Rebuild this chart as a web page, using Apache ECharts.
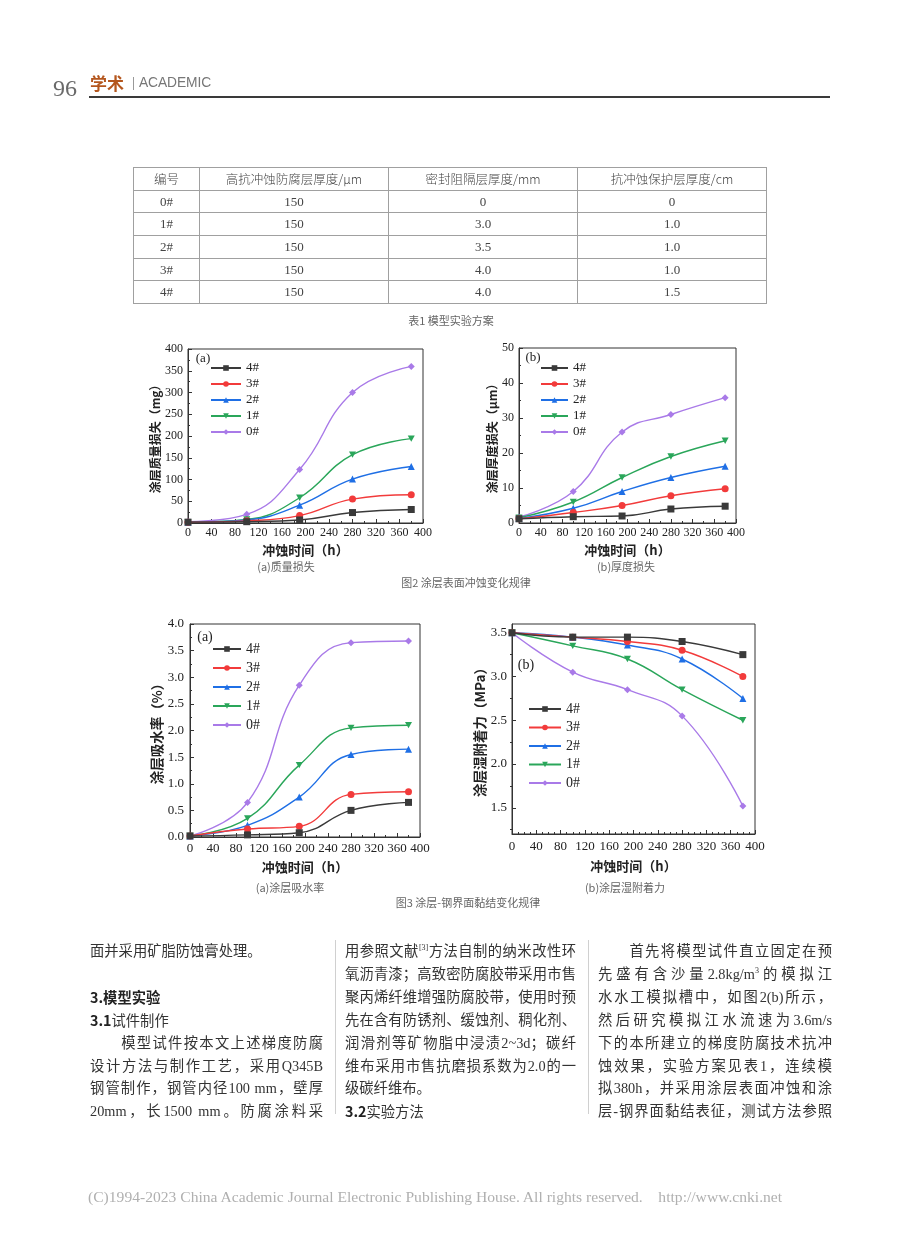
<!DOCTYPE html>
<html><head><meta charset="utf-8">
<script src="https://cdn.jsdelivr.net/npm/echarts@6/dist/echarts.min.js"></script>
<style>
body{margin:0;background:#fff;}
#page{position:relative;width:920px;height:1235px;overflow:hidden;background:#fff;font-family:"Liberation Serif","Noto Sans CJK SC",serif;color:#333;}
#chart{position:absolute;left:0;top:0;width:920px;height:1235px;}
.abs{position:absolute;white-space:nowrap;}
.cap{font-family:"Noto Sans CJK SC",sans-serif;font-size:11px;color:#666;transform:translateX(-50%);line-height:14px;}
table.t{position:absolute;left:133px;top:167px;width:633px;table-layout:fixed;border-collapse:collapse;font-size:13px;color:#444;}
table.t td{border:1px solid #a0a0a0;height:21.7px;padding:0;text-align:center;font-family:"Liberation Serif","Noto Sans CJK SC",serif;overflow:hidden;white-space:nowrap;}
table.t tr.h td{font-family:"Noto Sans CJK SC",sans-serif;font-size:12.5px;font-weight:300;}
.ln{position:absolute;font-size:14.3px;line-height:20px;height:20px;white-space:nowrap;overflow:visible;color:#333;font-family:"Liberation Serif","Noto Sans CJK SC",serif;}
.ln.j{text-align:justify;text-align-last:justify;white-space:normal;}
.ln b{font-family:"Noto Sans CJK SC",sans-serif;font-weight:bold;color:#222;}
.ln sup{font-size:8px;vertical-align:6px;line-height:0;}
</style></head>
<body><div id="page">
<div id="chart"></div>
</div>
<script>
// ---------- data ----------
const timeH = [0, 100, 190, 280, 380];
const seriesNames = ['4#', '3#', '2#', '1#', '0#'];
// Fig.2(a) mass loss (mg), order 4#,3#,2#,1#,0#
const massLoss = [
  [2, 3, 7, 24, 31],
  [2, 5, 17, 55, 65],
  [2, 7, 41, 101, 130],
  [2, 8, 58, 157, 194],
  [3, 20, 123, 300, 360]
];
// Fig.2(b) thickness loss (μm)
const thicknessLoss = [
  [1.2, 1.8, 2.0, 4.0, 4.8],
  [1.2, 3.0, 5.0, 7.8, 9.8],
  [1.3, 4.2, 9.0, 13.0, 16.2],
  [1.5, 6.0, 13.0, 19.0, 23.5],
  [1.7, 9.0, 26.0, 31.0, 35.8]
];
// Fig.3(a) water absorption (%)
const waterAbsorption = [
  [0.02, 0.04, 0.08, 0.50, 0.65],
  [0.02, 0.15, 0.20, 0.80, 0.85],
  [0.02, 0.22, 0.75, 1.55, 1.65],
  [0.02, 0.35, 1.35, 2.05, 2.10],
  [0.02, 0.65, 2.85, 3.65, 3.68]
];
// Fig.3(b) wet adhesion (MPa)
const wetAdhesion = [
  [3.5, 3.45, 3.45, 3.40, 3.25],
  [3.5, 3.45, 3.40, 3.30, 3.00],
  [3.5, 3.45, 3.36, 3.20, 2.75],
  [3.5, 3.35, 3.20, 2.85, 2.50],
  [3.5, 3.05, 2.85, 2.55, 1.52]
];
const adhesionTicks = [1.5, 2.0, 2.5, 3.0, 3.5];
const adhesionMinorTicks = [1.25, 1.75, 2.25, 2.75, 3.25];

// table
const tableHeader = ['编号', '高抗冲蚀防腐层厚度/μm', '密封阻隔层厚度/mm', '抗冲蚀保护层厚度/cm'];
const tableIds = ['0#', '1#', '2#', '3#', '4#'];
const anticorrosionLayer = ['150', '150', '150', '150', '150'];
const sealLayer = ['0', '3.0', '3.5', '4.0', '4.0'];
const protectLayer = ['0', '1.0', '1.0', '1.0', '1.5'];

// ---------- page furniture ----------
const page = document.getElementById('page');
function addDiv(html, css, cls) {
  const d = document.createElement('div');
  d.className = 'abs ' + (cls || '');
  d.innerHTML = html;
  Object.assign(d.style, css);
  page.appendChild(d);
  return d;
}
// header
addDiv('96', {left:'53px', top:'75px', fontSize:'24px', lineHeight:'27px', color:'#6a6a6a', fontFamily:'"Liberation Serif",serif'});
addDiv('学术', {left:'90px', top:'73px', fontSize:'17px', lineHeight:'20px', color:'#b4561d', fontWeight:'bold', fontFamily:'"Noto Sans CJK SC",sans-serif'});
addDiv('', {left:'133px', top:'77px', width:'1px', height:'13px', background:'#999'});
addDiv('ACADEMIC', {left:'139px', top:'75px', fontSize:'13.8px', lineHeight:'16px', color:'#777', fontFamily:'"Liberation Sans",sans-serif', letterSpacing:'-0.1px'});
addDiv('', {left:'89px', top:'96px', width:'741px', height:'1.5px', background:'#3a3a3a'});

// table
(function(){
  const t = document.createElement('table');
  t.className = 't';
  const widths = [66, 189, 189, 189];
  let html = '<colgroup>' + widths.map(w=>'<col style="width:'+w+'px">').join('') + '</colgroup>';
  html += '<tr class="h">' + tableHeader.map(h=>'<td>'+h+'</td>').join('') + '</tr>';
  for (let i = 0; i < tableIds.length; i++) {
    html += '<tr><td>'+tableIds[i]+'</td><td>'+anticorrosionLayer[i]+'</td><td>'+sealLayer[i]+'</td><td>'+protectLayer[i]+'</td></tr>';
  }
  t.innerHTML = html;
  page.appendChild(t);
})();

// captions
addDiv('表1 模型实验方案', {left:'451px', top:'313px'}, 'cap');
addDiv('(a)质量损失', {left:'286px', top:'559px'}, 'cap');
addDiv('(b)厚度损失', {left:'626px', top:'559px'}, 'cap');
addDiv('图2 涂层表面冲蚀变化规律', {left:'466px', top:'575px'}, 'cap');
addDiv('(a)涂层吸水率', {left:'290px', top:'880px'}, 'cap');
addDiv('(b)涂层湿附着力', {left:'625px', top:'880px'}, 'cap');
addDiv('图3 涂层-钢界面黏结变化规律', {left:'468px', top:'895px'}, 'cap');

// body text
const col1 = [
  [0, '面并采用矿脂防蚀膏处理。', false],
  [2, '<b>3.模型实验</b>', false],
  [3, '<b>3.1</b>试件制作', false],
  [4, '　　模型试件按本文上述梯度防腐', true],
  [5, '设计方法与制作工艺，采用Q345B', true],
  [6, '钢管制作，钢管内径100 mm，壁厚', true],
  [7, '20mm，长1500 mm。防腐涂料采', true]
];
const col2 = [
  [0, '用参照文献<sup>[3]</sup>方法自制的纳米改性环', true],
  [1, '氧沥青漆；高致密防腐胶带采用市售', true],
  [2, '聚丙烯纤维增强防腐胶带，使用时预', true],
  [3, '先在含有防锈剂、缓蚀剂、稠化剂、', true],
  [4, '润滑剂等矿物脂中浸渍2~3d；碳纤', true],
  [5, '维布采用市售抗磨损系数为2.0的一', true],
  [6, '级碳纤维布。', false],
  [7, '<b>3.2</b>实验方法', false]
];
const col3 = [
  [0, '　　首先将模型试件直立固定在预', true],
  [1, '先盛有含沙量2.8kg/m<sup>3</sup>的模拟江', true],
  [2, '水水工模拟槽中，如图2(b)所示，', true],
  [3, '然后研究模拟江水流速为3.6m/s', true],
  [4, '下的本所建立的梯度防腐技术抗冲', true],
  [5, '蚀效果，实验方案见表1，连续模', true],
  [6, '拟380h，并采用涂层表面冲蚀和涂', true],
  [7, '层-钢界面黏结表征，测试方法参照', true]
];
function placeCol(lines, left, width) {
  lines.forEach(([k, html, just]) => {
    const d = document.createElement('div');
    d.className = 'ln' + (just ? ' j' : '');
    d.innerHTML = html;
    d.style.left = left + 'px';
    d.style.width = width + 'px';
    d.style.top = (941 + k * 22.9) + 'px';
    page.appendChild(d);
  });
}
placeCol(col1, 90, 233);
placeCol(col2, 345, 231);
placeCol(col3, 598, 234);
addDiv('', {left:'335px', top:'940px', width:'1px', height:'174px', background:'#d0d0d0'});
addDiv('', {left:'588px', top:'940px', width:'1px', height:'174px', background:'#d0d0d0'});

// footer
addDiv('(C)1994-2023 China Academic Journal Electronic Publishing House. All rights reserved.&nbsp;&nbsp;&nbsp;&nbsp;http://www.cnki.net',
  {left:'88px', top:'1187px', fontSize:'15.6px', lineHeight:'19px', color:'#b0b0b0', fontFamily:'"Liberation Serif",serif', letterSpacing:'0px'});

// ---------- charts ----------
const colors = ['#3a3a3a', '#f23b3b', '#1f6fe5', '#2aa65a', '#a97ae8'];
const symbols = ['rect', 'circle', 'triangle', 'path://M0,0L10,0L5,9Z', 'diamond'];
const serifFont = '"Liberation Serif", "Times New Roman", serif';
const cjkFont = '"Noto Sans CJK SC", sans-serif';

const grids = [
  {left:188, top:349, width:235, height:174},
  {left:519, top:348, width:217, height:175},
  {left:190, top:624, width:230, height:213},
  {left:512, top:624, width:243, height:210}
].map(g => Object.assign({show:true, borderColor:'#333', borderWidth:1, backgroundColor:'transparent', containLabel:false, outerBoundsMode:'none'}, g));

function xAxis(gi, fs, margin, gap, minorSplit) {
  return {
    type:'value', gridIndex:gi, min:0, max:400, interval:40,
    axisLine:{show:true, onZero:false, lineStyle:{color:'#333', width:1}},
    axisTick:{show:true, inside:true, length:4, lineStyle:{color:'#333'}},
    minorTick:{show:true, splitNumber:minorSplit, length:2, lineStyle:{color:'#333'}},
    splitLine:{show:false},
    axisLabel:{margin:margin, fontFamily:serifFont, fontSize:fs, color:'#222'},
    name:'冲蚀时间（h）', nameLocation:'middle', nameGap:gap,
    nameTextStyle:{fontFamily:cjkFont, fontSize:13, color:'#222', fontWeight:'bold'}
  };
}
function yAxis(gi, opt) {
  return Object.assign({
    type:'value', gridIndex:gi,
    axisLine:{show:true, onZero:false, lineStyle:{color:'#333', width:1}},
    axisTick:{show:true, inside:true, length:4, lineStyle:{color:'#333'}},
    minorTick:{show:true, splitNumber:2, length:2, lineStyle:{color:'#333'}},
    splitLine:{show:false},
    nameLocation:'middle'
  }, opt);
}

const xAxes = [
  xAxis(0, 12, 4, 21, 2),
  xAxis(1, 12, 4, 21, 2),
  xAxis(2, 13, 5, 24, 2),
  xAxis(3, 13, 6, 26, 4)
];
const yAxes = [
  yAxis(0, {min:0, max:400, interval:50, name:'涂层质量损失（mg）', nameGap:25,
    axisLabel:{margin:5, fontFamily:serifFont, fontSize:12, color:'#222'},
    nameTextStyle:{fontFamily:cjkFont, fontSize:12, color:'#222', fontWeight:'bold'}}),
  yAxis(1, {min:0, max:50, interval:10, name:'涂层厚度损失（μm）', nameGap:19,
    axisLabel:{margin:5, fontFamily:serifFont, fontSize:12, color:'#222'},
    nameTextStyle:{fontFamily:cjkFont, fontSize:12, color:'#222', fontWeight:'bold'}}),
  yAxis(2, {min:0, max:4, interval:0.5, name:'涂层吸水率（%）', nameGap:23,
    axisLabel:{margin:6, fontFamily:serifFont, fontSize:13, color:'#222', formatter:v=>v.toFixed(1)},
    nameTextStyle:{fontFamily:cjkFont, fontSize:13.5, color:'#222', fontWeight:'bold'}}),
  yAxis(3, {min:1.2, max:3.6, name:'涂层湿附着力（MPa）', nameGap:24,
    axisTick:{show:true, inside:true, length:4, lineStyle:{color:'#333'}, customValues:adhesionTicks},
    minorTick:{show:false},
    axisLabel:{margin:5, fontFamily:serifFont, fontSize:13, color:'#222', customValues:adhesionTicks, formatter:v=>v.toFixed(1)},
    nameTextStyle:{fontFamily:cjkFont, fontSize:13.5, color:'#222', fontWeight:'bold'}}),
  yAxis(3, {min:1.2, max:3.6, axisLine:{show:false},
    axisTick:{show:true, inside:true, length:2, lineStyle:{color:'#333'}, customValues:adhesionMinorTicks},
    minorTick:{show:false},
    axisLabel:{show:false}})
];

const datasets = [massLoss, thicknessLoss, waterAbsorption, wetAdhesion];
const series = [];
datasets.forEach((ds, gi) => {
  ds.forEach((vals, si) => {
    series.push({
      type:'line', name:seriesNames[si], xAxisIndex:gi, yAxisIndex:gi,
      data: timeH.map((t, i) => [t, vals[i]]),
      smooth:0.45, symbol:symbols[si], symbolSize:7, symbolKeepAspect:true,
      showSymbol:true, clip:false,
      lineStyle:{color:colors[si], width:1.4},
      itemStyle:{color:colors[si]},
      emphasis:{disabled:true}, animation:false, z: 10 - si
    });
  });
});

function legend(left, top, itemWidth, gap, fs) {
  return {
    orient:'vertical', left:left, top:top, itemWidth:itemWidth, itemHeight:7, itemGap:gap,
    padding:0, selectedMode:false, data:seriesNames,
    textStyle:{fontFamily:serifFont, fontSize:fs, color:'#222', lineHeight:14}
  };
}
const legends = [
  legend(210, 361, 30, 2, 13),
  legend(540, 361, 27, 2, 13),
  legend(212, 642, 28, 5, 14),
  legend(528, 702, 32, 4.5, 14)
];

const panelTags = [
  {text:'(a)', x:203, y:359, fs:13},
  {text:'(b)', x:533, y:358, fs:13},
  {text:'(a)', x:205, y:637, fs:14},
  {text:'(b)', x:526, y:665, fs:14}
];

const chart = echarts.init(document.getElementById('chart'), null, {renderer:'canvas'});
chart.setOption({
  animation:false,
  backgroundColor:'transparent',
  grid: grids,
  xAxis: xAxes,
  yAxis: yAxes,
  legend: legends,
  series: series,
  graphic: panelTags.map(p => ({
    type:'text', x:p.x, y:p.y, z:100,
    style:{text:p.text, fontFamily:serifFont, fontSize:p.fs, fill:'#222', align:'center', verticalAlign:'middle'}
  }))
});
</script>
</body></html>
